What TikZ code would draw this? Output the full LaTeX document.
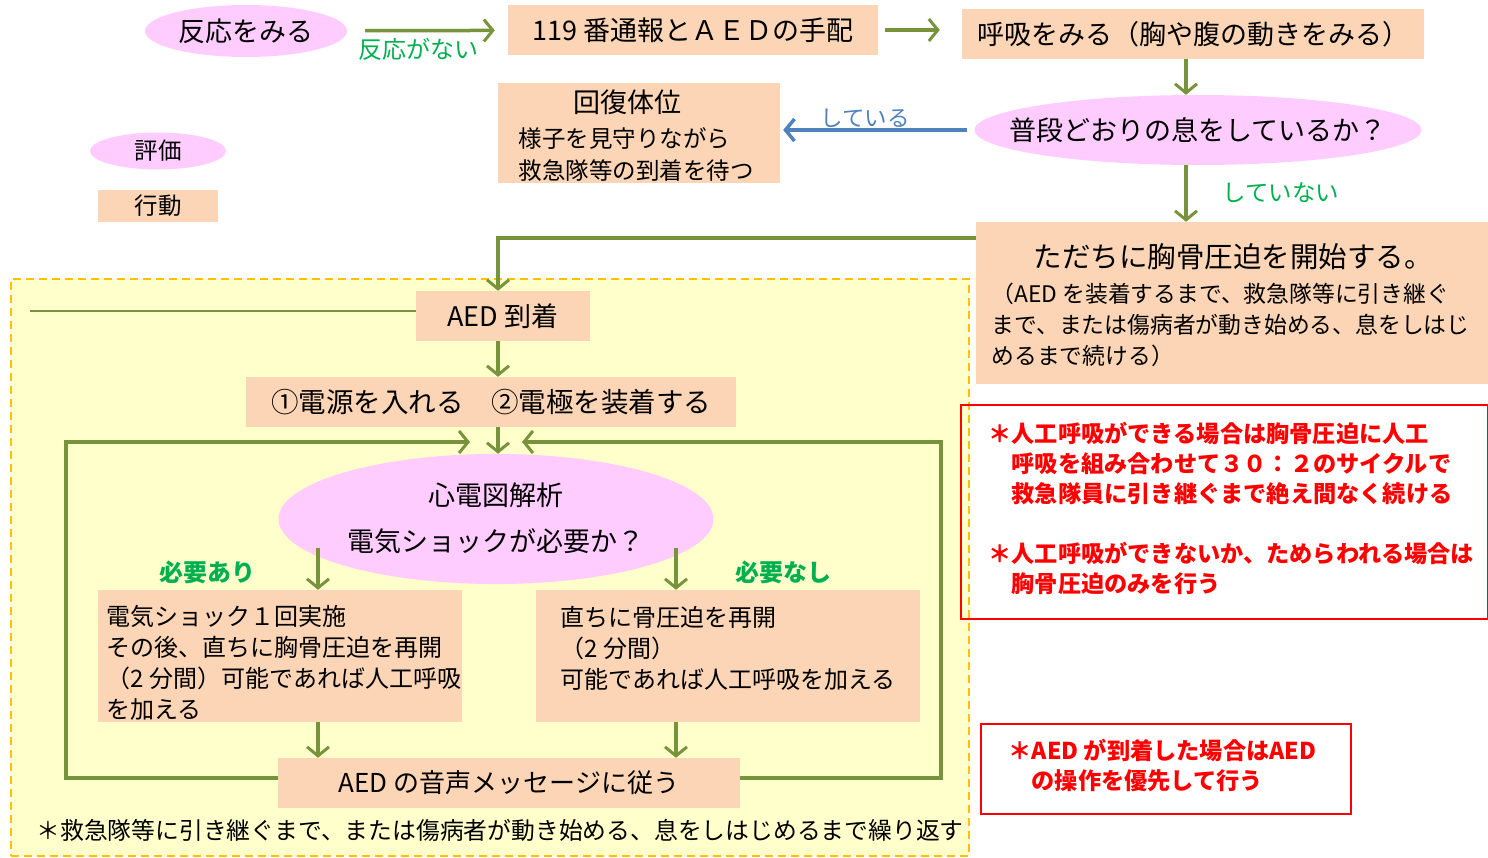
\documentclass[tikz,border=0pt]{standalone}
\usepackage{fontspec}
\setmainfont{Noto Sans CJK JP}
\usetikzlibrary{arrows.meta,shapes.geometric}
\definecolor{evalpink}{RGB}{255,204,255}
\definecolor{actpeach}{RGB}{251,213,181}
\definecolor{flowgreen}{RGB}{119,147,60}
\definecolor{labelgreen}{RGB}{0,176,80}
\definecolor{keepblue}{RGB}{79,129,189}
\definecolor{aedyellow}{RGB}{255,255,204}
\definecolor{aedorange}{RGB}{255,192,0}
\newcommand{\jfs}[2]{\fontsize{#1}{#2}\selectfont}

\begin{document}
\begin{tikzpicture}[x=1pt, y=-1pt,
    evalnode/.style={ellipse, fill=evalpink, inner sep=0pt},
    actbox/.style={rectangle, fill=actpeach, inner sep=0pt},
    flow/.style={draw=flowgreen, line width=3.5pt, -{Straight Barb[length=9pt, width=22pt, line width=3pt]}},
    keeparrow/.style={draw=keepblue, line width=4pt, -{Straight Barb[length=9pt, width=22pt, line width=3.5pt]}},
    stubline/.style={draw=flowgreen, line width=2pt},
    notebox/.style={draw=red, line width=1.5pt, inner sep=0pt},
    notetext/.style={anchor=west, align=left, text=red, font=\jfs{23.2}{30}\bfseries},
    yeslabel/.style={text=labelgreen, font=\jfs{24}{28}\bfseries}]
  \useasboundingbox (0,0) rectangle (1488,857);

  % AED area
  \node[fill=aedyellow, draw=aedorange, line width=1.5pt, dash pattern=on 8pt off 5pt,
        minimum width=958pt, minimum height=577pt, anchor=north west, inner sep=0pt] (aedarea) at (10,278) {};

  % first steps
  \node[evalnode, minimum width=202pt, minimum height=52pt, font=\jfs{27}{32}] (react) at (246,31) {\makebox[0pt]{反応をみる}};
  \node[actbox, minimum width=370pt, minimum height=50pt, font=\jfs{27}{32}] (call) at (693,30) {119 番通報とＡＥＤの手配};
  \node[actbox, minimum width=462pt, minimum height=50pt, font=\jfs{27}{32}] (breath) at (1193,34) {呼吸をみる（胸や腹の動きをみる）};
  \node[evalnode, minimum width=447pt, minimum height=70pt, font=\jfs{27}{32}] (normal) at (1198,130) {\makebox[0pt]{普段どおりの息をしているか？}};
  \node[actbox, minimum width=282pt, minimum height=100pt] (recov) at (639,133) {};
  \node[font=\jfs{27}{32}] (recovtitle) at (627,102) {回復体位};
  \node[anchor=west, align=left, font=\jfs{23.5}{32}] (recovtext) at (515,155) {様子を見守りながら\\救急隊等の到着を待つ};
  \coordinate (breathcol) at (1186,0);

  % legend
  \node[evalnode, minimum width=136pt, minimum height=37pt, font=\jfs{23.5}{28}] (legeval) at (158,151) {\makebox[0pt]{評価}};
  \node[actbox, minimum width=120pt, minimum height=32pt, font=\jfs{23.5}{28}] (legact) at (158,206) {行動};

  % chest compressions
  \node[actbox, minimum width=512pt, minimum height=162pt] (cpr) at (1232,303) {};
  \node[font=\jfs{28.5}{34}] (cprtitle) at (1233,257) {ただちに胸骨圧迫を開始する。};
  \node[anchor=west, align=left, font=\jfs{22.8}{31}] (cprtext) at (988,325)
    {（AED を装着するまで、救急隊等に引き継ぐ\\まで、または傷病者が動き始める、息をしはじ\\めるまで続ける）};

  % AED steps
  \coordinate (spine) at (498,0);
  \coordinate (arrivestub) at (30,311);
  \node[actbox, minimum width=174pt, minimum height=50pt, font=\jfs{27}{32}] (arrive) at (503,316) {AED 到着};
  \node[actbox, minimum width=490pt, minimum height=50pt, font=\jfs{27.5}{32}] (power) at (491,402) {①電源を入れる　②電極を装着する};
  \node[evalnode, minimum width=435pt, minimum height=118pt, font=\jfs{27}{46}] (ecg) at (496,519)
    {\makebox[0pt]{\begin{tabular}{@{}c@{}}心電図解析\\電気ショックが必要か？\end{tabular}}};
  \node[actbox, minimum width=364pt, minimum height=132pt] (shock) at (280,656) {};
  \node[anchor=west, align=left, font=\jfs{24}{31}] (shocktext) at (103,663)
    {電気ショック１回実施\\その後、直ちに胸骨圧迫を再開\\（2 分間）可能であれば人工呼吸\\を加える};
  \node[actbox, minimum width=384pt, minimum height=132pt] (noshock) at (728,656) {};
  \node[anchor=west, align=left, font=\jfs{24}{31}] (noshocktext) at (557,648)
    {直ちに骨圧迫を再開\\（2 分間）\\可能であれば人工呼吸を加える};
  \node[actbox, minimum width=462pt, minimum height=50pt, font=\jfs{26}{30}] (voice) at (509,783) {AED の音声メッセージに従う};
  \node[anchor=west, font=\jfs{23.8}{28}] (repeat) at (33,830) {＊救急隊等に引き継ぐまで、または傷病者が動き始める、息をしはじめるまで繰り返す};
  \coordinate (yesstart) at (318,548);
  \coordinate (nostart) at (676,548);
  \coordinate (loopleft) at (470,442);
  \coordinate (loopright) at (522,442);

  % labels
  \node[text=labelgreen, font=\jfs{24}{28}] (nores) at (418,49) {反応がない};
  \node[text=keepblue, font=\jfs{22.5}{26}] (breathing) at (865,118) {している};
  \node[text=labelgreen, font=\jfs{23.5}{28}] (notbreathing) at (1281,193) {していない};
  \node[yeslabel] (needed) at (207,572) {必要あり};
  \node[yeslabel] (notneeded) at (783,572) {必要なし};

  % notes
  \node[notebox, minimum width=527pt, minimum height=214pt, anchor=north west] (note1) at (960,404) {};
  \node[notetext] (note1text) at (985,508)
    {＊人工呼吸ができる場合は胸骨圧迫に人工\\　呼吸を組み合わせて３０：２のサイクルで\\　救急隊員に引き継ぐまで絶え間なく続ける\\[30pt]＊人工呼吸ができないか、ためらわれる場合は\\　胸骨圧迫のみを行う};
  \node[notebox, minimum width=370pt, minimum height=90pt, anchor=north west] (note2) at (980,723) {};
  \node[notetext] (note2text) at (1005,765) {＊AED が到着した場合はAED\\　の操作を優先して行う};

  % connectors
  \draw[flow, shorten <=18pt, shorten >=13pt] (react) -- (call);
  \draw[flow, shorten <=7pt, shorten >=22pt] (call.east) -- (call.east -| breath.west);
  \draw[flow] (breath.south -| breathcol) -- (normal.north -| breathcol);
  \draw[keeparrow, shorten <=7pt, shorten >=3pt] (normal.west) -- (normal.west -| recov.east);
  \draw[flow] (normal.south -| breathcol) -- (cpr.north -| breathcol);
  \draw[flow] ([yshift=-16pt]cpr.north west) -| (arrive.north -| spine);
  \draw[stubline] (arrivestub) -- (arrivestub -| arrive.west);
  \draw[flow] (arrive.south -| spine) -- (power.north -| spine);
  \draw[flow] (power.south -| spine) -- (ecg.north -| spine);
  \draw[flow] ([yshift=5pt]voice.west) -- ++(-212,0) |- (loopleft);
  \draw[flow] ([yshift=5pt]voice.east) -- ++(201,0) |- (loopright);
  \draw[flow] (yesstart) -- (yesstart |- shock.north);
  \draw[flow] (nostart) -- (nostart |- noshock.north);
  \draw[flow] (shock.south -| yesstart) -- (voice.north -| yesstart);
  \draw[flow] (noshock.south -| nostart) -- (voice.north -| nostart);
\end{tikzpicture}
\end{document}
